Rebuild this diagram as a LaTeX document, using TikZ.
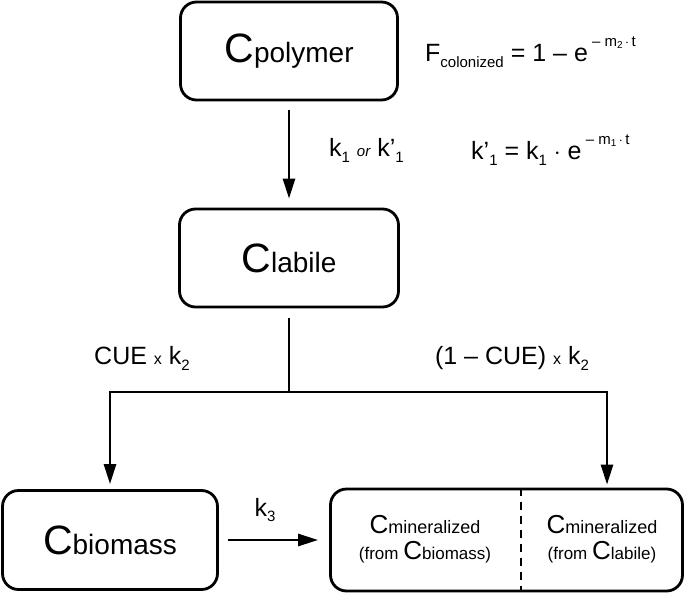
\documentclass[tikz,border=0pt]{standalone}
\usepackage{fontspec}
\setmainfont{Liberation Sans}
\usetikzlibrary{arrows.meta}

\newcommand{\pool}[2]{{\fontsize{#1}{#1}\selectfont C}#2}
\newcommand{\sbs}[1]{\raisebox{-0.45ex}{\fontsize{15}{15}\selectfont #1}}
\newcommand{\sps}[1]{\raisebox{1.1ex}{\fontsize{15}{15}\selectfont #1}}
\newcommand{\tsbs}[1]{\raisebox{-0.3ex}{\fontsize{10}{10}\selectfont #1}}

\tikzset{x=1pt, y=-1pt}
\tikzset{pool/.style={draw, line width=2.8pt, rounded corners=16pt, inner sep=0pt},
  flow/.style={line width=2.6pt, -{Triangle[length=20pt,width=12pt]}},
  lab/.style={font=\fontsize{25}{25}\selectfont, inner sep=0pt}}

\begin{document}
\begin{tikzpicture}
\useasboundingbox (0,0) rectangle (685,594);
% pools
\node[pool, minimum width=217pt, minimum height=98pt] (poly) at (289,51)
  {\pool{41}{\fontsize{28}{28}\selectfont polymer}};
\node[pool, minimum width=219pt, minimum height=98pt] (lab) at (289,258)
  {\pool{41}{\fontsize{28}{28}\selectfont labile}};
\node[pool, minimum width=215pt, minimum height=99pt] (bio) at (110,540)
  {\pool{41}{\fontsize{28}{28}\selectfont biomass}};
\node[pool, minimum width=352pt, minimum height=102pt] (mine) at (506.5,540) {};
\coordinate (div) at (521,540);
\draw[dashed, line width=2.2pt, dash pattern=on 8pt off 6pt] (mine.north -| div) -- (mine.south -| div);
\node[align=center, font=\fontsize{17}{18}\selectfont] (mineb) at (425,539)
  {\pool{26}{\fontsize{18}{18}\selectfont mineralized}\\[7pt](from \pool{26}{biomass})};
\node[align=center, font=\fontsize{17}{18}\selectfont] (minel) at (602,539)
  {\pool{26}{\fontsize{18}{18}\selectfont mineralized}\\[7pt](from \pool{26}{labile})};
% rates
\node[lab, anchor=west] (fcol) at (425,52)
  {F\sbs{colonized} = 1 -- e\,\sps{-- m\tsbs{2}\,$\cdot$\,t}};
\node[lab, anchor=west] (kone) at (329,150)
  {k\sbs{1} {\itshape\fontsize{15}{15}\selectfont or} k’\sbs{1}};
\node[lab, anchor=west] (kp) at (471,150)
  {k’\sbs{1} = k\sbs{1} $\cdot$ e\,\sps{-- m\tsbs{1}\,$\cdot$\,t}};
\node[lab] (cue) at (142,358) {CUE {\fontsize{16}{16}\selectfont x} k\sbs{2}};
\node[lab] (ncue) at (512,358) {(1 -- CUE) {\fontsize{16}{16}\selectfont x} k\sbs{2}};
\node[lab] (kthree) at (265,510) {k\sbs{3}};
% flows
\coordinate (split) at (289,392);
\coordinate (right) at (607,392);
\draw[flow] ([yshift=-9pt]poly.south) -- ([yshift=9pt]lab.north);
\draw[line width=2.6pt] ([yshift=-10pt]lab.south) -- (split);
\draw[flow] (split) -| ([yshift=5pt]bio.north);
\draw[flow] (split) -- (right) -- ([yshift=3pt]mine.north -| right);
\draw[flow] ([xshift=9pt]bio.east) -- ([xshift=-11pt]mine.west |- bio.east);
\end{tikzpicture}
\end{document}
